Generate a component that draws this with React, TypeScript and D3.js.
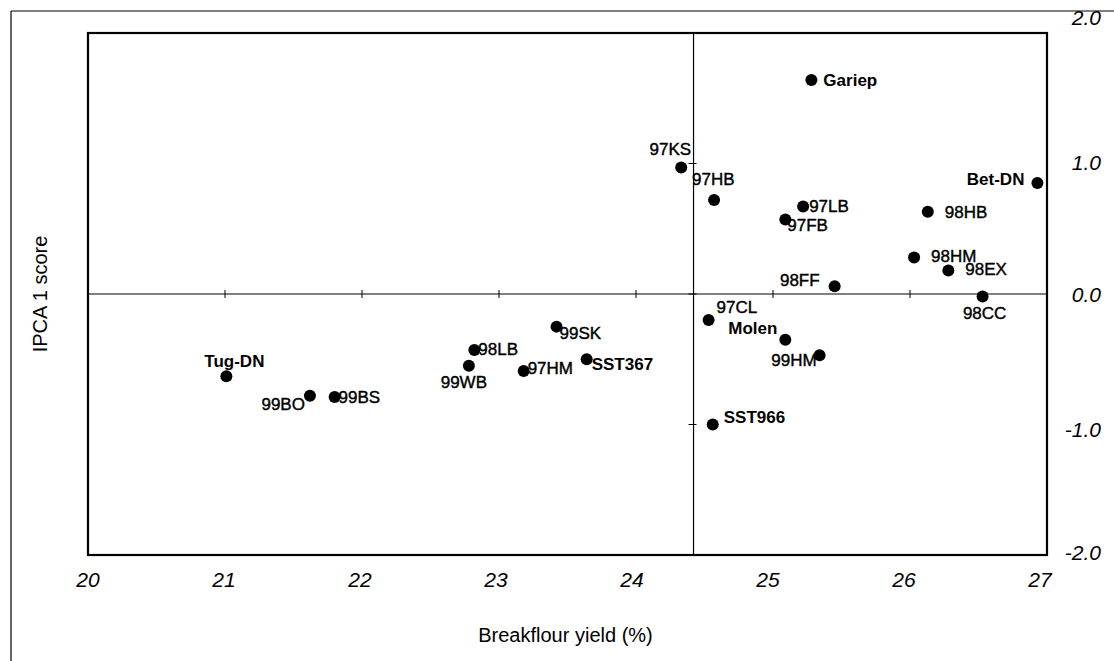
import React from "react";
import * as d3 from "d3";

// ---- data ----
const names = ["Gariep","97KS","97HB","97LB","97FB","Bet-DN","98HB","98HM","98EX","98FF","98CC","97CL","Molen","99HM","SST966","99SK","SST367","98LB","99WB","97HM","Tug-DN","99BO","99BS"];
const breakflour = [25.28,24.33,24.57,25.22,25.09,26.93,26.13,26.03,26.28,25.45,26.53,24.53,25.09,25.34,24.56,23.42,23.64,22.82,22.78,23.18,21.01,21.62,21.80];
const ipca1 = [1.64,0.97,0.72,0.67,0.57,0.85,0.63,0.28,0.18,0.06,-0.02,-0.20,-0.35,-0.47,-1.0,-0.25,-0.50,-0.43,-0.55,-0.59,-0.63,-0.78,-0.79];
const xTicks = [20,21,22,23,24,25,26,27];
const yTicks = [2,1,0,-1,-2];
const xRefLine = 24.42;
const yRefLine = 0;

// ---- layout ----
const W = 1114, H = 661;
const plot = { left: 88, right: 1047, top: 33, bottom: 555 };
// label offsets [dx, dy, anchor]
const labelPos: Record<string, [number, number, string]> = {
  "Gariep": [12, 6, "start"],
  "97KS": [10, -12, "end"],
  "97HB": [-22, -15, "start"],
  "97LB": [6, 5, "start"],
  "97FB": [2, 11, "start"],
  "Bet-DN": [-13, 2, "end"],
  "98HB": [17, 6, "start"],
  "98HM": [17, 5, "start"],
  "98EX": [17, 4, "start"],
  "98FF": [-15, 0, "end"],
  "98CC": [2, 22, "middle"],
  "97CL": [8, -7, "start"],
  "Molen": [-8, -6, "end"],
  "99HM": [-3, 11, "end"],
  "SST966": [11, -2, "start"],
  "99SK": [3, 12, "start"],
  "SST367": [5, 11, "start"],
  "98LB": [4, 5, "start"],
  "99WB": [-5, 22, "middle"],
  "97HM": [4, 3, "start"],
  "Tug-DN": [8, -9, "middle"],
  "99BO": [-5, 14, "end"],
  "99BS": [4, 6, "start"],
};
const yLabelNudge: Record<string, number> = { "2": -15, "1": -1, "0": 1, "-1": 5, "-2": -2 };

export default function App() {
  const x = d3.scaleLinear().domain([20, 27]).range([plot.left, plot.right]);
  const y = d3.scaleLinear().domain([-2, 2]).range([plot.bottom, plot.top]);
  const font = "'Liberation Sans', Arial, sans-serif";
  const pts = names.map((n, i) => ({ n, x: breakflour[i], y: ipca1[i] }));
  return (
    <svg width={W} height={H} style={{ position: "absolute", left: 0, top: 0, background: "#fff" }} fontFamily={font}>
      {/* outer frame */}
      <line x1={11} y1={11} x2={W} y2={11} stroke="#000" strokeWidth={1.2} />
      <line x1={11} y1={11} x2={11} y2={H} stroke="#000" strokeWidth={1.2} />
      {/* plot box */}
      <rect x={plot.left} y={plot.top} width={plot.right - plot.left} height={plot.bottom - plot.top} fill="none" stroke="#000" strokeWidth={2.2} />
      {/* reference lines */}
      <line x1={plot.left} x2={plot.right} y1={y(yRefLine)} y2={y(yRefLine)} stroke="#000" strokeWidth={1.2} />
      <line x1={x(xRefLine)} x2={x(xRefLine)} y1={plot.top} y2={plot.bottom} stroke="#000" strokeWidth={1.2} />
      {/* small ticks on cross lines */}
      {xTicks.slice(1, -1).map(t => (
        <line key={"xt" + t} x1={x(t)} x2={x(t)} y1={y(0) - 4} y2={y(0) + 4} stroke="#000" strokeWidth={1} />
      ))}
      {yTicks.slice(1, -1).map(t => (
        <line key={"yt" + t} x1={x(xRefLine) - 5} x2={x(xRefLine) + 3} y1={y(t)} y2={y(t)} stroke="#000" strokeWidth={1} />
      ))}
      {/* x tick labels */}
      {xTicks.map(t => (
        <text key={"xl" + t} x={x(t) - (t - 20) * 1} y={587} textAnchor="middle" fontSize={21} fontStyle="italic">{t}</text>
      ))}
      {/* y tick labels */}
      {yTicks.map(t => (
        <text key={"yl" + t} x={1101} y={y(t) + (yLabelNudge[String(t)] || 0)} dy="0.35em" textAnchor="end" fontSize={21} fontStyle="italic">{t.toFixed(1)}</text>
      ))}
      {/* axis titles */}
      <text x={(plot.left + plot.right) / 2 - 2} y={642} textAnchor="middle" fontSize={20}>Breakflour yield (%)</text>
      <text transform={`translate(47,${y(0)}) rotate(-90)`} textAnchor="middle" fontSize={20}>IPCA 1 score</text>
      {/* points */}
      {pts.map(p => (
        <circle key={"c" + p.n} cx={x(p.x)} cy={y(p.y)} r={6} fill="#000" />
      ))}
      {pts.map(p => {
        const [dx, dy, anchor] = labelPos[p.n] || [8, 4, "start"];
        const bold = !/^\d/.test(p.n);
        return (
          <text key={"t" + p.n} x={x(p.x) + dx} y={y(p.y) + dy} textAnchor={anchor as any} fontSize={17}
            fontWeight={bold ? 700 : 400} stroke={bold ? "none" : "#000"} strokeWidth={bold ? 0 : 0.4}>{p.n}</text>
        );
      })}
    </svg>
  );
}
